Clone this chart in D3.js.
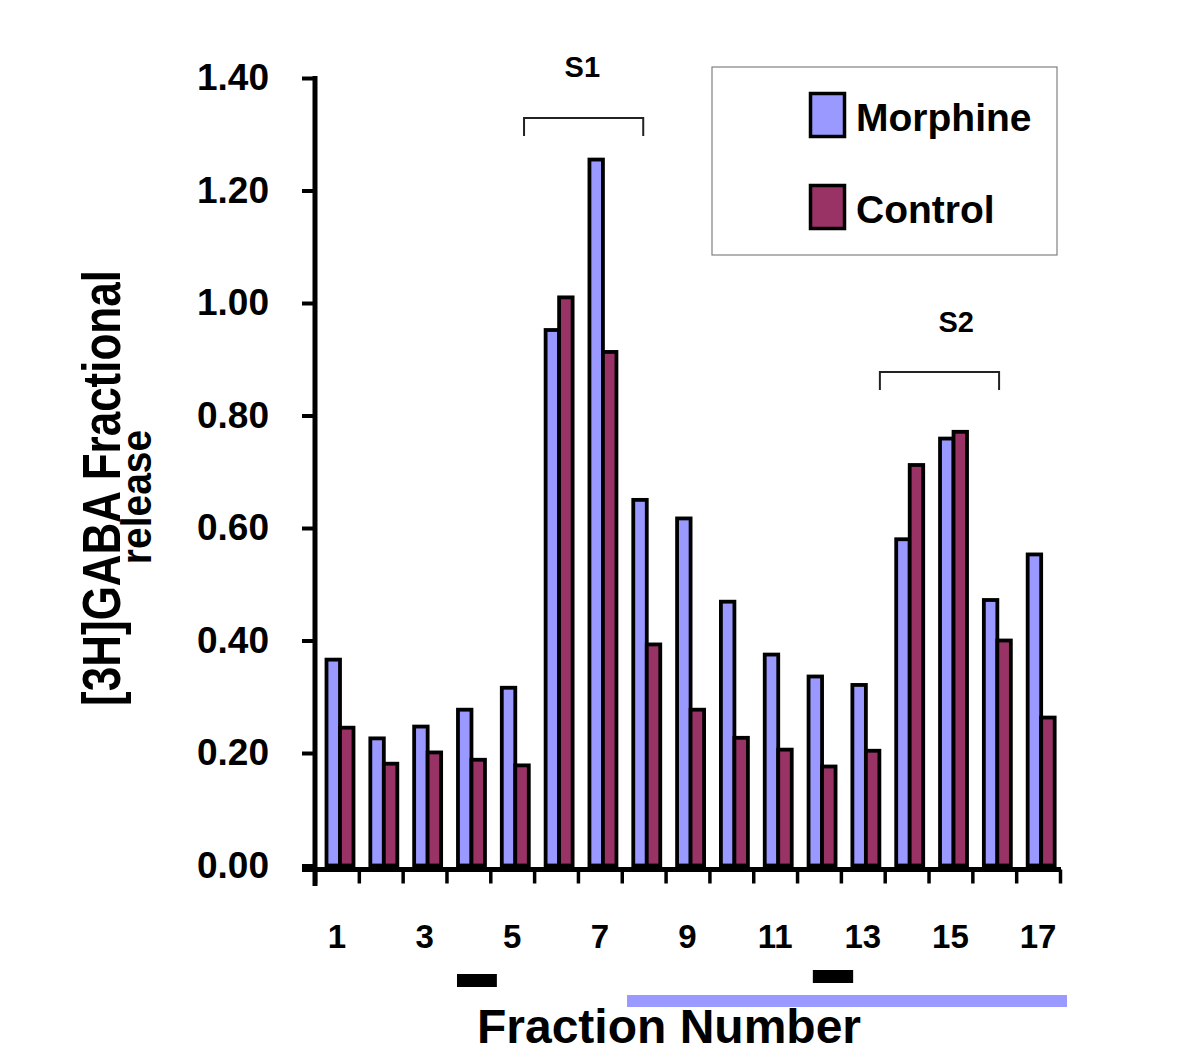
<!DOCTYPE html>
<html><head><meta charset="utf-8">
<script src="https://cdn.jsdelivr.net/npm/d3@7/dist/d3.min.js"></script>
<style>
html,body{margin:0;padding:0;background:#fff;}
svg{display:block;font-family:"Liberation Sans",Arial,Helvetica,sans-serif;}
</style></head>
<body>
<script>
// ---- data ----
const fractions = [1,2,3,4,5,6,7,8,9,10,11,12,13,14,15,16,17];
const seriesNames = ["Morphine","Control"];
const morphine = [0.366,0.226,0.247,0.277,0.316,0.952,1.255,0.650,0.617,0.469,0.375,0.336,0.321,0.580,0.759,0.472,0.553];
const control  = [0.245,0.181,0.201,0.188,0.178,1.010,0.913,0.393,0.277,0.227,0.206,0.176,0.204,0.712,0.771,0.400,0.263];
const yTicks = [0,0.2,0.4,0.6,0.8,1.0,1.2,1.4];
const xTickLabels = [1,3,5,7,9,11,13,15,17];
const brackets = [{label:"S1", from:5.27, to:7.99, labelAt:6.6}, {label:"S2", from:13.39, to:16.11, labelAt:15.13}];
const blackMarks = [{from:3.74, to:4.65}, {from:11.86, to:12.78}];
const blueLine = {from:7.62, to:17.66};
const colors = {Morphine:"#9999ff", Control:"#993366"};

// ---- layout ----
const W = 1200, H = 1058;
const svg = d3.select("body").append("svg").attr("width", W).attr("height", H);

const y = d3.scaleLinear().domain([0, 1.4]).range([865.5, 78]);
const x = d3.scaleBand().domain(fractions).range([315, 1060]).padding(0);
const xs = d3.scaleBand().domain(seriesNames).range([11.5, 38.5]).padding(0);
const fx = d3.scaleLinear().domain([0.5, 17.5]).range([315, 1060]);

const rows = fractions.map((f, i) => ({f, Morphine: morphine[i], Control: control[i]}));

// bars
const g = svg.append("g");
g.selectAll("g.grp").data(rows).join("g").attr("class", "grp")
  .attr("transform", d => `translate(${x(d.f)},0)`)
  .selectAll("rect").data(d => seriesNames.map(k => ({k, v: d[k]}))).join("rect")
  .attr("x", d => xs(d.k))
  .attr("width", xs.bandwidth())
  .attr("y", d => y(d.v))
  .attr("height", d => y(0) - y(d.v))
  .attr("fill", d => colors[d.k])
  .attr("stroke", "#000").attr("stroke-width", 3.8);

// y axis
const yAxis = d3.axisLeft(y).tickValues(yTicks).tickFormat(d3.format(".2f")).tickSize(13).tickPadding(33);
const ya = svg.append("g").attr("transform", "translate(315,0)").call(yAxis);
ya.select(".domain").remove();
ya.selectAll(".tick line").attr("stroke", "#000").attr("stroke-width", 4);
ya.selectAll(".tick text").attr("font-size", 37).attr("font-weight", "bold").attr("fill", "#000")
  .attr("font-family", "'Liberation Sans',Arial,sans-serif");
svg.append("line").attr("x1", 315).attr("x2", 315).attr("y1", y(1.4) - 2).attr("y2", 886)
  .attr("stroke", "#000").attr("stroke-width", 5);

// x axis
const xAxis = d3.axisBottom(fx).tickValues(d3.range(0.5, 18, 1)).tickSize(14).tickFormat("");
const xa = svg.append("g").attr("transform", `translate(0,${y(0) + 4})`).call(xAxis);
xa.select(".domain").remove();
xa.selectAll(".tick line").attr("stroke", "#000").attr("stroke-width", 3.5);
svg.append("line").attr("x1", 302).attr("x2", 1061).attr("y1", y(0) + 4).attr("y2", y(0) + 4)
  .attr("stroke", "#000").attr("stroke-width", 5);
svg.append("g").selectAll("text").data(xTickLabels).join("text")
  .attr("x", d => fx(d)).attr("y", 948).attr("text-anchor", "middle")
  .attr("font-size", 33).attr("font-weight", "bold").text(d => d);

// x title
svg.append("text").attr("x", 669).attr("y", 1043).attr("text-anchor", "middle")
  .attr("font-size", 48).attr("font-weight", "bold").text("Fraction Number");

// y title
svg.append("text").attr("transform", "translate(120,488) rotate(-90) scale(1,1.2)").attr("text-anchor", "middle")
  .attr("font-size", 44).attr("font-weight", "bold").text("[3H]GABA Fractional");
svg.append("text").attr("transform", "translate(151,497) rotate(-90) scale(1,1.08)").attr("text-anchor", "middle")
  .attr("font-size", 39).attr("font-weight", "bold").text("release");

// brackets
const bracketY = {S1: [118, 136, 77], S2: [372, 390, 332]};
brackets.forEach(b => {
  const [top, bot, ty] = bracketY[b.label];
  svg.append("path")
    .attr("d", `M${fx(b.from)},${bot} V${top} H${fx(b.to)} V${bot}`)
    .attr("fill", "none").attr("stroke", "#222").attr("stroke-width", 2);
  svg.append("text").attr("x", fx(b.labelAt)).attr("y", ty).attr("text-anchor", "middle")
    .attr("font-size", 29).attr("font-weight", "bold").text(b.label);
});

// markers under the axis
const markY = [974, 970];
blackMarks.forEach((m, i) => {
  svg.append("rect").attr("x", fx(m.from)).attr("width", fx(m.to) - fx(m.from))
    .attr("y", markY[i]).attr("height", 13).attr("fill", "#000");
});
svg.append("rect").attr("x", fx(blueLine.from)).attr("width", fx(blueLine.to) - fx(blueLine.from))
  .attr("y", 995).attr("height", 12).attr("fill", "#9999ff");

// legend
const lg = svg.append("g");
lg.append("rect").attr("x", 712).attr("y", 67).attr("width", 345).attr("height", 188)
  .attr("fill", "#fff").attr("stroke", "#808080").attr("stroke-width", 1.2);
const legY = d3.scalePoint().domain(seriesNames).range([92, 184]);
seriesNames.forEach(k => {
  lg.append("rect").attr("x", 810.5).attr("y", legY(k) + 1.5).attr("width", 34).attr("height", 43)
    .attr("fill", colors[k]).attr("stroke", "#000").attr("stroke-width", 3.5);
  lg.append("text").attr("x", 856).attr("y", legY(k) + 39).attr("font-size", 39)
    .attr("font-weight", "bold").text(k);
});
</script>
</body></html>
